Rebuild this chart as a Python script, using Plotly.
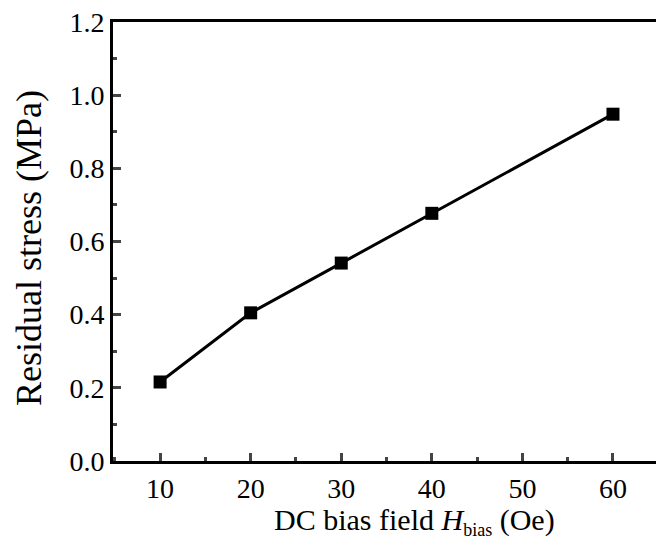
import plotly.graph_objects as go

field = [10, 20, 30, 40, 60]
stress = [0.216, 0.405, 0.541, 0.677, 0.948]
x_ticks = [10, 20, 30, 40, 50, 60]
y_ticks = [0.0, 0.2, 0.4, 0.6, 0.8, 1.0, 1.2]
x_title = "DC bias field <i>H</i><sub><span style='font-size:18px'>bias</span></sub> (Oe)"
y_title = "Residual stress (MPa)"

fig = go.Figure()
fig.add_trace(go.Scatter(
    x=field, y=stress, mode="lines+markers",
    line=dict(color="black", width=3),
    marker=dict(symbol="square", size=13, color="black"),
    showlegend=False,
))

font = "Liberation Serif, Times New Roman, serif"
fig.update_layout(
    width=656, height=556,
    margin=dict(l=113, r=0, t=22, b=95),
    paper_bgcolor="white", plot_bgcolor="white",
    font=dict(family=font, color="black", size=28),
)
fig.update_xaxes(
    range=[4.8, 64.75], tickvals=x_ticks, ticks="inside", ticklen=8, tickwidth=2.5,
    showline=True, linewidth=3, linecolor="black", mirror=True,
    showgrid=False, zeroline=False,
    minor=dict(ticks="inside", ticklen=4, tickwidth=2.5, dtick=5, tick0=5, showgrid=False),
    tickfont=dict(size=28),
)
fig.update_yaxes(
    range=[0, 1.2], tickvals=y_ticks, tickformat=".1f", ticks="inside", ticklen=8, tickwidth=2.5,
    showline=True, linewidth=3, linecolor="black", mirror=False,
    showgrid=False, zeroline=False,
    minor=dict(ticks="inside", ticklen=4, tickwidth=2.5, dtick=0.1, showgrid=False),
    tickfont=dict(size=28),
)
fig.add_annotation(
    text=x_title, xref="paper", yref="paper", x=(414 - 113) / 543, y=(461 - 521) / 439,
    xanchor="center", yanchor="middle", showarrow=False, font=dict(size=30),
)
fig.add_annotation(
    text=y_title, xref="paper", yref="paper", x=(29 - 113) / 543, y=(461 - 248) / 439,
    xanchor="center", yanchor="middle", textangle=-90, showarrow=False, font=dict(size=36),
)
fig.write_html("out.html")
